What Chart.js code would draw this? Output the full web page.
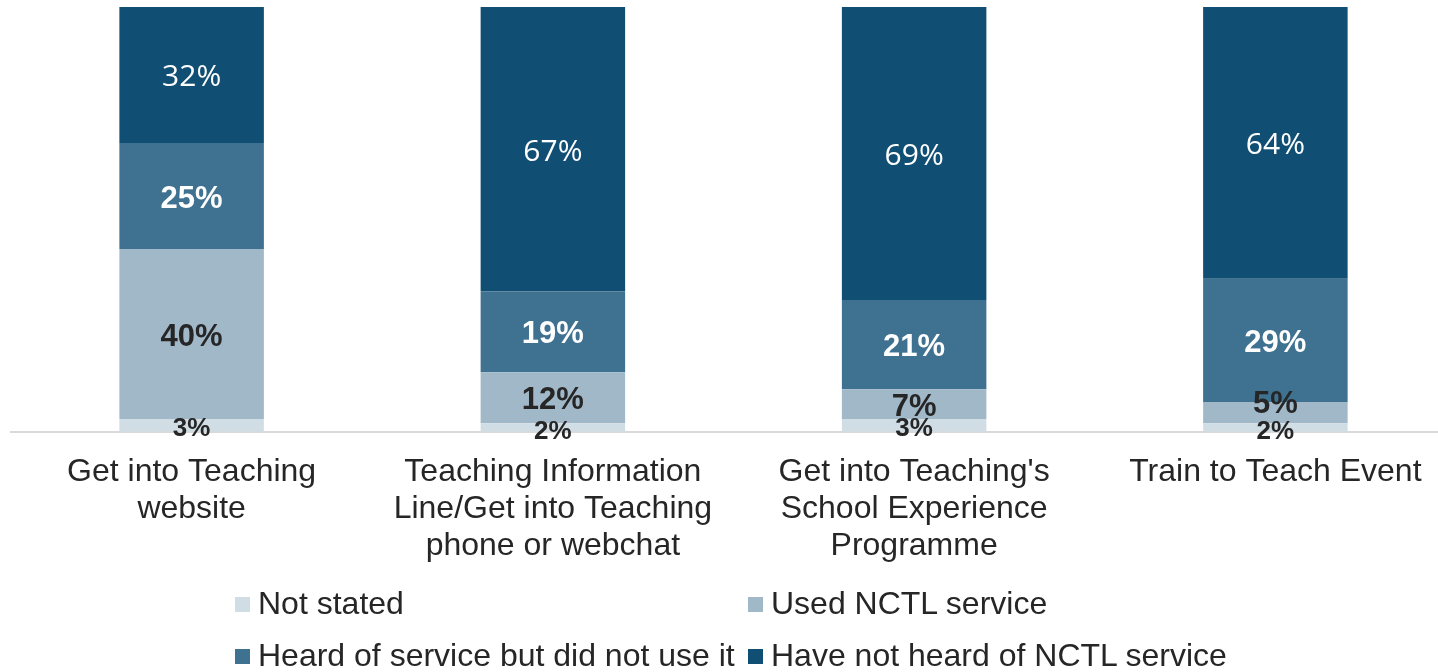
<!DOCTYPE html>
<html>
<head>
<meta charset="utf-8">
<script src="https://cdn.jsdelivr.net/npm/chart.js@4.4.1/dist/chart.umd.min.js"></script>
<style>
  html, body { margin: 0; padding: 0; background: #fff; overflow: hidden; }
  #wrap { position: relative; width: 1460px; height: 672px; }
  #legend {
    position: absolute; left: 235px; top: 577px;
    display: grid; grid-template-columns: 513px auto;
    font-family: "Liberation Sans", Arial, sans-serif; font-size: 32px; color: #262626;
  }
  #legend .item { display: flex; align-items: center; height: 52px; white-space: nowrap; }
  #legend .box { width: 15px; height: 15px; margin-right: 8px; margin-top: 2px; }
</style>
</head>
<body>
<div id="wrap">
  <canvas id="chart" width="1460" height="672"></canvas>
  <div id="legend"></div>
</div>
<script>
const categories = [
  ['Get into Teaching', 'website'],
  ['Teaching Information', 'Line/Get into Teaching', 'phone or webchat'],
  ["Get into Teaching's", 'School Experience', 'Programme'],
  ['Train to Teach Event']
];
const seriesNames = ['Not stated', 'Used NCTL service', 'Heard of service but did not use it', 'Have not heard of NCTL service'];
const notStated = [3, 2, 3, 2];
const usedService = [40, 12, 7, 5];
const heardNotUsed = [25, 19, 21, 29];
const notHeard = [32, 67, 69, 64];

const colors = ['#d0dde5', '#a1b8c8', '#3f7190', '#114e73'];
const labelStyles = [
  { font: 'bold 26px "Liberation Sans", Arial, sans-serif', color: '#262626', dy: 4 },
  { font: 'bold 31px "Liberation Sans", Arial, sans-serif', color: '#262626', dy: 3 },
  { font: 'bold 31px "Liberation Sans", Arial, sans-serif', color: '#ffffff', dy: 3 },
  { font: '30px "Open Sans", "Liberation Sans", sans-serif', color: '#ffffff', dy: 3 }
];

// draws the percentage in the middle of each segment,
// nudging a label up when it would sit on the one below it
const valueLabels = {
  id: 'valueLabels',
  afterDatasetsDraw(chart) {
    const ctx = chart.ctx;
    const lastY = [];
    chart.data.datasets.forEach((ds, i) => {
      const meta = chart.getDatasetMeta(i);
      const st = labelStyles[i];
      meta.data.forEach((bar, j) => {
        let y = (bar.y + bar.base) / 2 + st.dy;
        if (lastY[j] !== undefined && lastY[j] - y < 20) y = lastY[j] - 27;
        lastY[j] = y;
        ctx.save();
        ctx.font = st.font;
        ctx.fillStyle = st.color;
        ctx.textAlign = 'center';
        ctx.textBaseline = 'middle';
        ctx.fillText(ds.data[j] + '%', bar.x, y);
        ctx.restore();
      });
    });
  }
};

const seriesData = [notStated, usedService, heardNotUsed, notHeard];

const chart = new Chart(document.getElementById('chart').getContext('2d'), {
  type: 'bar',
  data: {
    labels: categories,
    datasets: seriesData.map((d, i) => ({
      label: seriesNames[i],
      data: d,
      backgroundColor: colors[i],
      borderWidth: 0,
      categoryPercentage: 1,
      barPercentage: 0.4
    }))
  },
  options: {
    responsive: false,
    animation: false,
    layout: { padding: { left: 11, right: 4, top: 7, bottom: 85 } },
    plugins: {
      legend: { display: false },
      tooltip: { enabled: false }
    },
    scales: {
      x: {
        stacked: true,
        grid: { display: false, drawTicks: false },
        border: { color: '#d9d9d9', width: 2 },
        ticks: {
          color: '#262626',
          padding: 22,
          maxRotation: 0,
          autoSkip: false,
          font: { family: '"Liberation Sans", Arial, sans-serif', size: 32, lineHeight: 1.16 }
        }
      },
      y: {
        stacked: true,
        display: false,
        min: 0,
        max: 100
      }
    }
  },
  plugins: [valueLabels]
});

// legend in two columns, built from the datasets
const legend = document.getElementById('legend');
chart.data.datasets.forEach(ds => {
  const item = document.createElement('div');
  item.className = 'item';
  const box = document.createElement('span');
  box.className = 'box';
  box.style.background = ds.backgroundColor;
  const txt = document.createElement('span');
  txt.textContent = ds.label;
  item.appendChild(box);
  item.appendChild(txt);
  legend.appendChild(item);
});
</script>
</body>
</html>
